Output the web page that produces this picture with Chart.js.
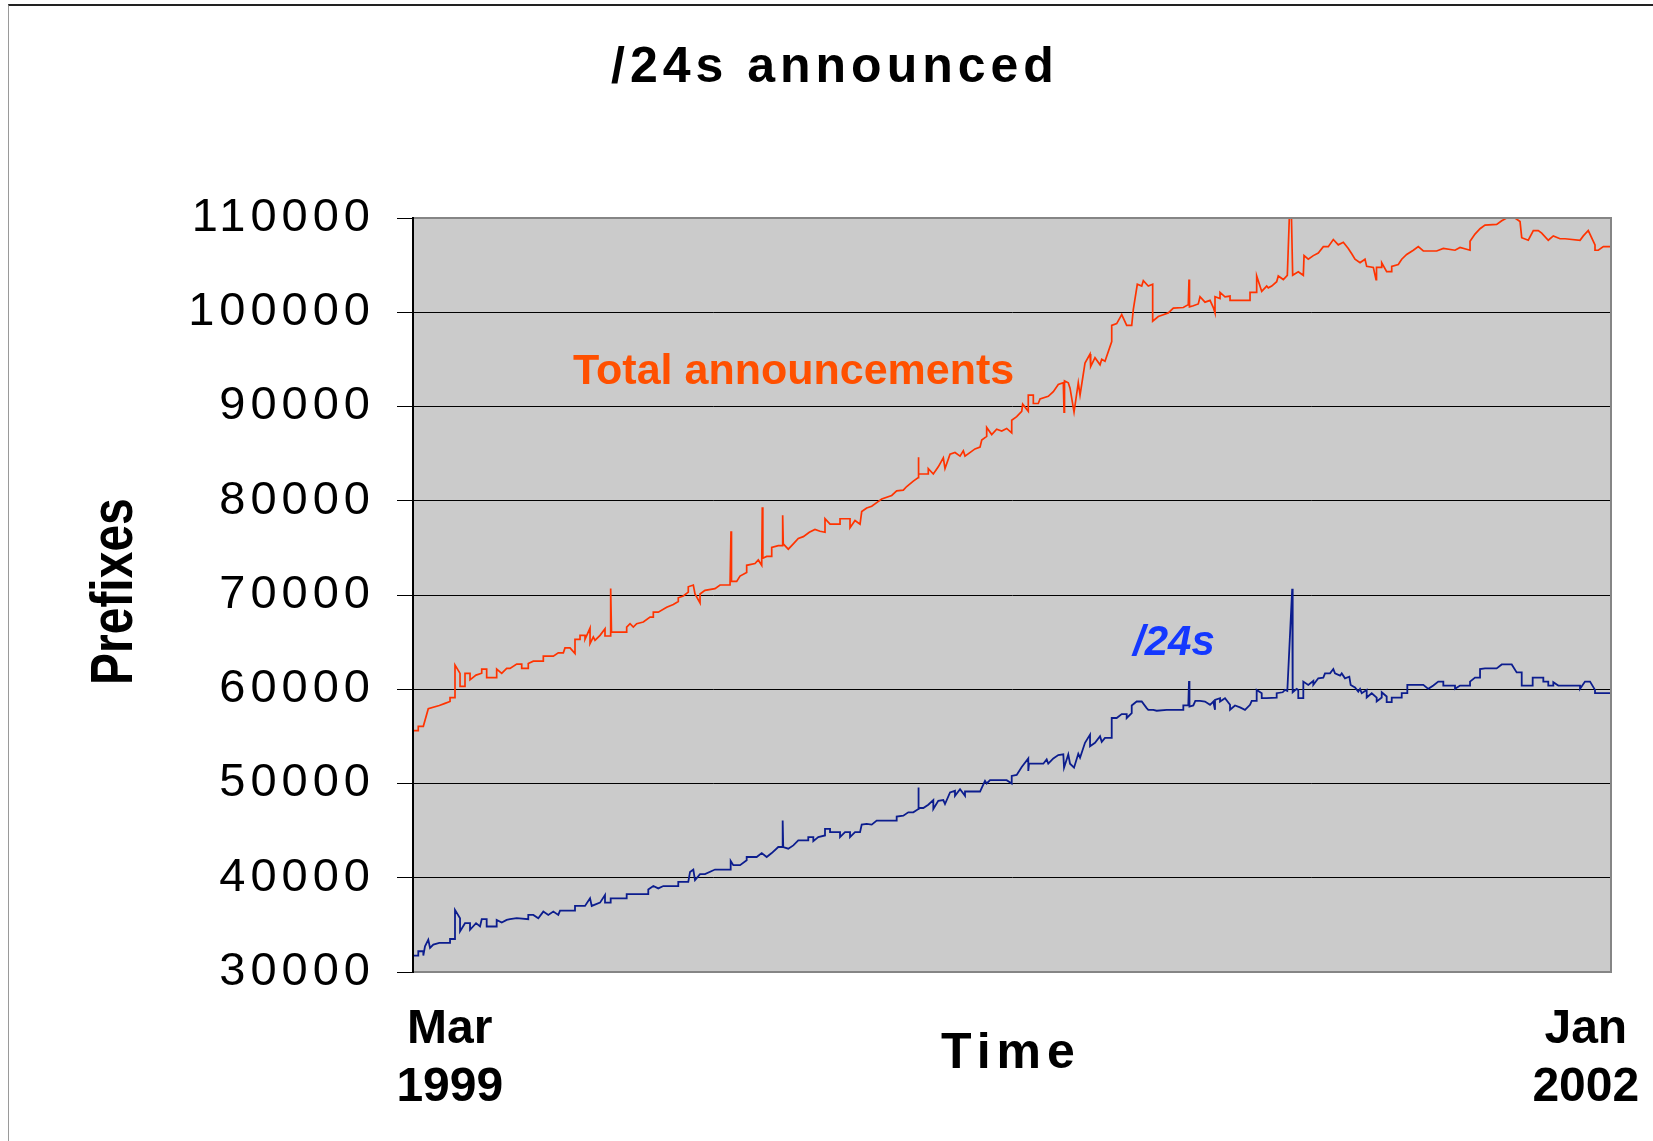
<!DOCTYPE html>
<html>
<head>
<meta charset="utf-8">
<script src="https://cdn.jsdelivr.net/npm/chart.js@4/dist/chart.umd.min.js"></script>
<style>
  html, body { margin: 0; padding: 0; background: #ffffff; }
  #wrap { position: relative; width: 1653px; height: 1141px; overflow: hidden; }
  #frame { position: absolute; left: 8px; top: 4px; width: 1660px; height: 1150px;
           border-top: 2px solid #222; border-left: 1px solid #9a9a9a; box-sizing: border-box; }
  canvas { position: absolute; left: 0; top: 0; }
</style>
</head>
<body>
<div id="wrap">
  <div id="frame"></div>
  <canvas id="c" width="1653" height="1141"></canvas>
</div>
<script>
// ---------------- data (time in weeks since 1 Mar 1999, values in prefixes) ----------------
const totalWeeks = [
  0,0.66,0.66,1.29,1.91,3.29,4.0,4.63,4.63,5.25,
  5.25,5.88,5.88,6.5,6.5,7.13,7.13,7.88,8.59,8.59,
  9.21,9.21,10.46,10.46,11.09,11.71,12.13,12.96,13.59,13.59,
  14.41,14.41,15.04,16.29,16.29,17.54,18.16,18.79,19.0,19.63,
  20.25,20.25,20.88,20.88,21.5,21.5,22.13,22.13,22.54,22.75,
  23.38,24.0,24.0,24.71,24.71,24.81,26.71,26.71,27.13,27.54,
  27.96,28.79,29.63,30.04,30.04,30.66,31.71,32.54,33.16,33.16,
  33.79,34.41,34.41,35.04,35.25,35.88,35.88,36.5,37.75,38.38,
  39.63,39.75,39.81,40.46,40.88,41.71,41.71,42.75,43.16,43.59,
  43.66,43.73,44.21,44.84,44.84,45.66,46.21,46.21,46.28,46.91,
  47.54,48.16,48.79,49.54,50.25,50.88,51.5,51.5,52.13,53.38,
  53.38,54.63,54.63,55.25,55.88,56.09,56.71,57.34,57.96,58.59,
  59.84,60.46,61.29,61.71,62.54,63.16,63.16,63.23,64.41,64.41,
  65.04,65.66,66.29,66.5,67.13,67.75,68.38,68.79,69.0,70.25,
  70.88,71.09,71.71,71.71,72.34,72.96,73.59,74.21,74.84,74.84,
  75.46,76.09,76.21,76.91,76.91,77.54,77.54,78.16,78.38,79.41,
  80.04,80.66,81.29,81.38,81.44,81.91,82.13,82.63,83.16,83.38,
  84.0,84.63,84.71,85.25,85.88,86.09,86.5,87.34,87.34,87.96,
  88.59,89.21,89.84,90.04,90.54,91.09,91.29,91.91,92.46,92.46,
  93.16,93.79,94.41,95.04,96.29,96.91,97.0,97.06,97.54,98.16,
  98.38,99.0,99.63,100.04,100.25,100.25,100.88,100.88,101.5,102.13,
  102.13,104.63,104.63,105.46,105.46,106.09,106.71,106.91,107.34,107.96,
  108.16,108.79,109.29,109.54,109.81,109.96,110.66,111.29,111.38,111.91,
  112.54,113.16,113.79,114.41,115.04,115.66,116.29,116.91,117.34,117.75,
  118.38,119.0,119.21,120.04,120.38,120.44,121.09,121.09,121.71,122.34,
  122.34,123.16,123.59,124.21,125.04,125.66,126.29,127.96,128.79,130.25,
  130.88,132.13,132.13,132.75,133.38,134.0,135.46,136.09,136.71,137.75,
  138.38,138.59,139.41,140.04,140.66,141.09,141.91,142.54,143.38,144.0,
  145.88,146.29,146.91,147.75,147.75,148.16,148.79,149.71
];
const totalPrefixes = [
  55600,55600,56070,56070,57930,58280,58500,58700,59120,59120,
  62560,61680,60300,60300,61680,61680,61000,61500,61700,62140,
  62140,61230,61230,62140,61680,62210,62210,62670,62670,62210,
  62210,62740,62980,62980,63510,63510,63860,63860,64390,64390,
  63790,65300,65300,65720,65720,65300,66490,64840,65550,65190,
  65720,66420,65650,65650,70680,66070,66070,66600,66950,66600,
  66950,67130,67650,67650,68180,68180,68700,69000,69300,69700,
  69900,70300,70870,71060,70110,69160,70110,70490,70680,71060,
  71060,76760,71440,71440,72010,72390,73150,73340,73720,73150,
  79300,73910,74100,74100,75050,75240,75240,78470,75430,74860,
  75430,76000,76190,76650,76950,76760,76650,78090,77520,77520,
  78090,78090,77140,77900,77520,78850,79230,79420,79800,80180,
  80560,81050,81130,81510,82080,82460,84620,82840,82840,83410,
  82840,83600,84550,83410,84930,85120,84740,85310,84740,85500,
  85690,86450,86830,87780,87020,87590,87400,87670,87210,88540,
  88920,89490,90250,89490,91200,91200,90320,90320,90810,91080,
  91570,92330,92520,89410,92710,92520,91950,89410,92520,91200,
  94610,95560,94230,95180,94420,95000,94800,96890,98600,98790,
  99740,98600,98600,100310,102970,102780,103350,102780,102970,99060,
  99550,99740,99930,100430,100500,100810,103470,100580,100690,100880,
  101640,101070,101260,100500,99930,101640,101450,102100,101640,101720,
  101260,101260,102100,102100,103850,102210,102780,102590,102780,103240,
  103850,103470,103920,110000,110000,103920,104300,103920,106010,105630,
  106010,106280,106960,106960,107720,107150,107420,106770,106200,105630,
  105250,105630,104870,104760,103470,104760,104760,105250,104300,104300,
  104870,105060,105630,106130,106580,106960,106500,106500,106770,106580,
  106880,106580,107530,108290,108860,109240,109320,109700,110000,110000,
  109620,107910,107640,108670,108670,108400,107640,108100,107800,107800,
  107640,108100,108670,107150,106580,106580,106960,106960
];
const slash24Weeks = [
  0,0.66,0.66,1.29,1.29,1.5,1.91,2.13,2.54,3.29,
  4.63,4.63,5.25,5.25,5.88,5.88,6.5,7.13,7.13,7.88,
  8.38,8.59,9.21,9.21,10.46,10.46,11.09,11.71,12.13,12.96,
  14.41,14.41,15.04,15.66,16.29,16.91,17.54,18.16,18.38,20.25,
  20.25,21.5,22.13,22.34,23.38,24.0,24.0,24.71,24.71,26.71,
  26.71,29.41,29.41,30.04,30.66,31.29,33.16,33.16,34.41,34.63,
  35.04,35.25,35.88,36.5,37.75,39.63,39.71,40.04,40.88,41.71,
  41.71,42.96,43.59,44.21,44.84,45.66,46.21,46.21,46.28,46.91,
  47.54,48.16,49.41,49.41,50.04,50.04,50.66,51.5,51.5,52.13,
  52.13,53.38,53.38,54.0,54.63,54.63,55.25,55.88,56.09,56.71,
  57.34,57.96,60.46,60.46,61.29,61.91,62.54,63.16,63.16,63.23,
  63.79,64.41,65.04,65.04,65.66,66.29,66.5,67.13,67.75,67.75,
  68.38,69.0,69.0,70.88,71.5,71.71,72.13,74.21,74.84,74.84,
  75.46,76.09,76.91,76.91,77.0,78.79,79.21,79.41,80.04,80.66,
  81.29,81.38,81.91,82.13,82.63,83.16,83.38,84.0,84.63,84.63,
  85.25,85.88,86.09,86.5,87.34,87.34,87.96,88.59,89.21,89.21,
  89.84,89.84,90.46,91.09,91.71,91.91,92.54,92.96,94.21,96.29,
  96.29,96.91,97.0,97.06,97.54,97.79,98.38,99.0,99.63,100.04,
  100.25,100.25,100.88,100.88,101.5,102.13,102.13,102.75,103.38,104.0,
  104.63,104.84,105.46,105.46,106.09,106.09,106.71,107.96,107.96,108.71,
  109.0,109.29,109.9,109.96,110.46,110.66,110.66,111.29,111.29,111.91,
  112.54,112.54,113.16,113.79,114.0,114.63,115.04,115.25,115.88,116.09,
  116.5,117.04,117.21,117.75,118.16,118.38,118.59,119.21,119.21,119.84,
  120.46,120.46,121.09,121.09,121.71,121.71,122.34,122.34,123.59,123.59,
  124.29,124.29,126.29,126.91,127.54,128.16,128.79,128.79,130.25,130.25,
  130.88,132.13,132.13,132.75,133.38,133.38,134.0,135.46,136.09,137.34,
  137.96,138.59,138.59,139.96,139.96,141.29,141.29,141.91,141.91,142.54,
  142.54,143.16,145.88,145.88,146.5,147.13,147.75,147.75,149.71
];
const slash24Prefixes = [
  31740,31740,32200,32200,31740,32730,33430,32550,32900,33080,
  33080,33500,33500,36590,35710,34310,35180,35180,34480,35180,
  34830,35600,35600,34830,34830,35530,35250,35530,35600,35710,
  35600,36060,36060,35710,36410,36060,36410,36060,36520,36520,
  37010,37010,37820,37010,37360,38170,37360,37360,37820,37820,
  38270,38270,38760,39120,38870,39120,39120,39570,39570,40620,
  40870,39750,40380,40380,40870,40870,41780,41330,41330,41850,
  42200,42200,42620,42200,42620,43260,43260,46070,43260,43080,
  43430,43960,43960,44310,44310,43890,44310,44490,45190,45190,
  44840,44840,44310,44840,44840,44310,44840,44840,45640,45710,
  45640,46070,46070,46490,46590,46940,46940,47290,49570,47400,
  47400,47750,48240,47290,48170,48240,47820,49050,49220,48700,
  49400,48700,49150,49150,50280,50000,50350,50350,50000,50800,
  50910,51750,52660,51330,52100,52100,52560,52100,52660,53020,
  53090,51680,53090,52100,51680,53160,52740,54320,55190,53960,
  54320,55020,54420,54840,54840,56950,56950,57370,57370,56950,
  57470,58280,58700,58700,58000,57820,57820,57720,57820,57820,
  58280,58280,60880,58170,58280,58770,58770,58700,58350,58700,
  57820,58880,59050,58700,59050,58350,57820,58280,58070,57820,
  58350,58770,58770,59930,59580,59050,59050,59120,59580,59680,
  59930,59820,70650,59680,60040,59930,59050,59050,60810,60460,
  60880,60460,61160,61230,61680,61680,62140,61680,61440,61680,
  61160,61330,60460,60180,59750,60040,59580,59930,59120,59580,
  59120,58700,59120,59680,59230,58630,58630,59120,59120,59580,
  59580,60460,60460,60040,60390,60810,60810,60390,60390,60040,
  60390,60390,60810,61230,61230,62140,62210,62210,62630,62630,
  61790,61790,60390,60390,61230,61230,60810,60810,60390,60390,
  60740,60390,60390,60040,60810,60810,59930,59580,59580
];
const yTicks = [30000, 40000, 50000, 60000, 70000, 80000, 90000, 100000, 110000];
const xTickWeeks = [4.6, 146.6];
const xTickLabels = [["Mar", "1999"], ["Jan", "2002"]];
const seriesNames = ["Total announcements", "/24s"];
const chartTitle = "/24s announced";
const yTitle = "Prefixes";
const xTitle = "Time";

// ---------------- chart ----------------
function toPoints(xs, ys) {
  const n = Math.min(xs.length, ys.length);
  const out = [];
  for (let i = 0; i < n; i++) out.push({ x: xs[i], y: ys[i] });
  return out;
}

const FONT = '"Liberation Sans", Arial, Helvetica, sans-serif';

function drawText(ctx, s, x, y, font, color, align, spacing) {
  ctx.save();
  ctx.font = font;
  ctx.fillStyle = color;
  ctx.textAlign = align || 'left';
  ctx.textBaseline = 'alphabetic';
  try { ctx.letterSpacing = spacing || '0px'; } catch (e) {}
  ctx.fillText(s, x, y);
  ctx.restore();
}

const decorPlugin = {
  id: 'decor',
  beforeDraw(chart) {
    const { ctx, chartArea: a } = chart;
    ctx.save();
    ctx.fillStyle = '#cbcbcb';
    ctx.fillRect(a.left, a.top, a.right - a.left, a.bottom - a.top);
    ctx.restore();
    try { ctx.letterSpacing = '5px'; } catch (e) {}
  },
  beforeDatasetsDraw(chart) {
    try { chart.ctx.letterSpacing = '0px'; } catch (e) {}
  },
  afterDatasetsDraw(chart) {
    const { ctx, chartArea: a } = chart;
    ctx.save();
    ctx.strokeStyle = '#858585';
    ctx.lineWidth = 2;
    ctx.beginPath();
    ctx.moveTo(a.left, a.top);
    ctx.lineTo(a.right, a.top);
    ctx.lineTo(a.right, a.bottom);
    ctx.lineTo(a.left, a.bottom);
    ctx.stroke();
    ctx.strokeStyle = '#000';
    ctx.beginPath();
    ctx.moveTo(a.left, a.top - 1);
    ctx.lineTo(a.left, a.bottom + 1);
    ctx.stroke();
    ctx.restore();
  },
  afterDraw(chart) {
    const ctx = chart.ctx;
    const xs = chart.scales.x;
    // title
    drawText(ctx, chartTitle, 611, 82, 'bold 50px ' + FONT, '#000', 'left', '5px');
    // x labels
    for (let i = 0; i < xTickWeeks.length; i++) {
      const px = xs.getPixelForValue(xTickWeeks[i]);
      drawText(ctx, xTickLabels[i][0], px, 1043, 'bold 48px ' + FONT, '#000', 'center');
      drawText(ctx, xTickLabels[i][1], px, 1101, 'bold 48px ' + FONT, '#000', 'center');
    }
    // x title
    drawText(ctx, xTitle, 941, 1068, 'bold 50px ' + FONT, '#000', 'left', '6px');
    // y title (rotated, slightly condensed)
    ctx.save();
    ctx.translate(132, 685);
    ctx.rotate(-Math.PI / 2);
    ctx.scale(0.8, 1);
    ctx.font = 'bold 60px ' + FONT;
    ctx.fillStyle = '#000';
    ctx.textAlign = 'left';
    ctx.textBaseline = 'alphabetic';
    try { ctx.letterSpacing = '0px'; } catch (e) {}
    ctx.fillText(yTitle, 0, 0);
    ctx.restore();
    // series annotations
    drawText(ctx, seriesNames[0], 573, 384, 'bold 43px ' + FONT, '#ff5000', 'left');
    drawText(ctx, seriesNames[1], 1133, 655, 'italic bold 42px ' + FONT, '#1438ff', 'left');
  }
};

new Chart(document.getElementById('c'), {
  type: 'line',
  data: {
    datasets: [
      {
        label: seriesNames[0],
        data: toPoints(totalWeeks, totalPrefixes),
        borderColor: '#ff3300',
        borderWidth: 1.7,
        pointRadius: 0,
        tension: 0,
        fill: false
      },
      {
        label: seriesNames[1],
        data: toPoints(slash24Weeks, slash24Prefixes),
        borderColor: '#0c1d8e',
        borderWidth: 1.8,
        pointRadius: 0,
        tension: 0,
        fill: false
      }
    ]
  },
  options: {
    responsive: false,
    animation: false,
    devicePixelRatio: 1,
    layout: { padding: { left: 0, right: 42, top: 218, bottom: 169 } },
    plugins: {
      legend: { display: false },
      title: { display: false },
      tooltip: { enabled: false }
    },
    scales: {
      x: {
        type: 'linear',
        min: 0,
        max: 149.75,
        grid: { display: false, drawTicks: false },
        border: { display: false },
        ticks: { display: false },
        afterFit(s) { s.height = 0; }
      },
      y: {
        type: 'linear',
        min: 30000,
        max: 110000,
        afterBuildTicks(s) { s.ticks = yTicks.map(v => ({ value: v })); },
        ticks: {
          color: '#000',
          padding: 22,
          font: { family: FONT, size: 47, weight: 'normal' },
          callback: v => String(v)
        },
        grid: { color: '#000', lineWidth: 1, tickLength: 16, drawTicks: true },
        border: { display: true, color: '#000', width: 2 },
        afterFit(s) { s.width = 413; }
      }
    }
  },
  plugins: [decorPlugin]
});
</script>
</body>
</html>
